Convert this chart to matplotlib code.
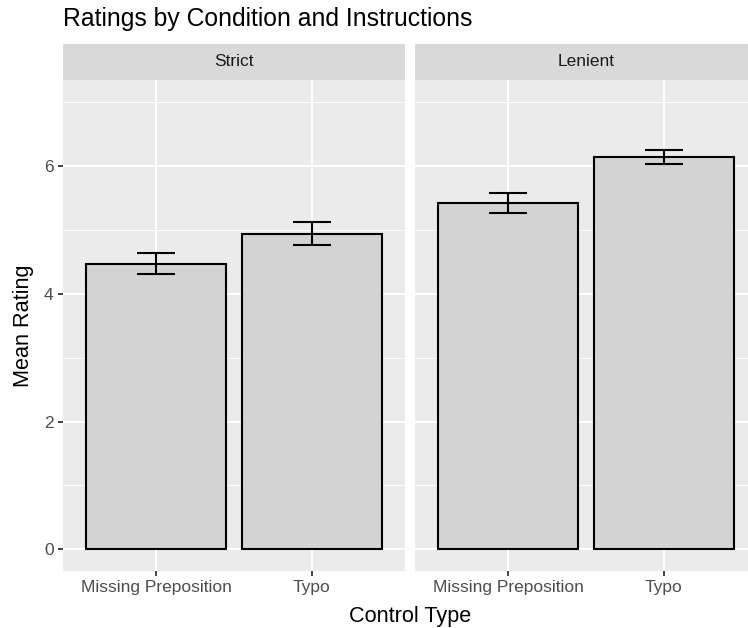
import matplotlib.pyplot as plt
from matplotlib.ticker import MultipleLocator

plt.rcParams['font.family'] = ['Liberation Sans', 'DejaVu Sans']

# Mean ratings with standard-error bounds, per instruction condition
conditions = ["Strict", "Lenient"]
control_types = ["Missing Preposition", "Typo"]
mean_rating = {
    "Strict": [4.47, 4.94],
    "Lenient": [5.42, 6.15],
}
err_low = {
    "Strict": [4.31, 4.76],
    "Lenient": [5.26, 6.04],
}
err_high = {
    "Strict": [4.64, 5.12],
    "Lenient": [5.58, 6.25],
}

W, H = 748, 628
fig = plt.figure(figsize=(W / 100, H / 100), dpi=100)
fig.patch.set_facecolor("white")

panel_bg = "#EBEBEB"
strip_bg = "#D9D9D9"
text_col = "#4D4D4D"

# facet panels, pixel extents (left, right); the second runs past the right edge
panels = [(63, 405), (415, 757)]
top_px, bot_px = 80, 571
strip_top = 44

ylim = (-0.34, 7.35)

for i, (cond, (x0, x1)) in enumerate(zip(conditions, panels)):
    ax = fig.add_axes([x0 / W, 1 - bot_px / H, (x1 - x0) / W, (bot_px - top_px) / H])
    ax.set_facecolor(panel_bg)
    xs = list(range(1, len(control_types) + 1))
    vals = mean_rating[cond]
    ax.bar(xs, vals, width=0.9, color="#D3D3D3", edgecolor="black", linewidth=1.5, zorder=3)
    lo = [v - l for v, l in zip(vals, err_low[cond])]
    hi = [h - v for v, h in zip(vals, err_high[cond])]
    ax.errorbar(xs, vals, yerr=[lo, hi], fmt="none", ecolor="black",
                elinewidth=1.5, capsize=14, capthick=1.5, zorder=4)
    ax.set_xlim(0.4, 2.6)
    ax.set_ylim(*ylim)
    ax.yaxis.set_major_locator(MultipleLocator(2))
    ax.yaxis.set_minor_locator(MultipleLocator(1))
    ax.set_xticks(xs)
    ax.set_xticklabels(control_types)
    ax.grid(which="major", color="white", linewidth=1.45, zorder=0)
    ax.grid(which="minor", axis="y", color="white", linewidth=0.75, zorder=0)
    ax.set_axisbelow(True)
    for s in ax.spines.values():
        s.set_visible(False)
    ax.tick_params(axis="both", which="major", length=3.75, width=1.3, color="#333333",
                   labelcolor=text_col, labelsize=12.5, pad=3)
    ax.tick_params(axis="both", which="minor", length=0)
    if i > 0:
        ax.tick_params(axis="y", which="major", length=0, labelleft=False)

    # facet strip
    sax = fig.add_axes([x0 / W, 1 - top_px / H, (x1 - x0) / W, (top_px - strip_top) / H])
    sax.set_facecolor(strip_bg)
    sax.set_xticks([])
    sax.set_yticks([])
    for s in sax.spines.values():
        s.set_visible(False)
    sax.text(0.5, 0.5, cond, ha="center", va="center", fontsize=12.5, color="#1A1A1A",
             transform=sax.transAxes)

fig.text(63 / W, 1 - 26 / H, "Ratings by Condition and Instructions", fontsize=17.8,
         ha="left", va="baseline", color="black")
fig.text((63 + 757) / 2 / W, 1 - 622 / H, "Control Type", fontsize=15.6,
         ha="center", va="baseline", color="black")
fig.text(23 / W, 1 - (top_px + bot_px) / 2 / H, "Mean Rating", fontsize=15.6,
         ha="center", va="center", rotation=90, color="black")

fig.savefig("out.png", dpi=100)
